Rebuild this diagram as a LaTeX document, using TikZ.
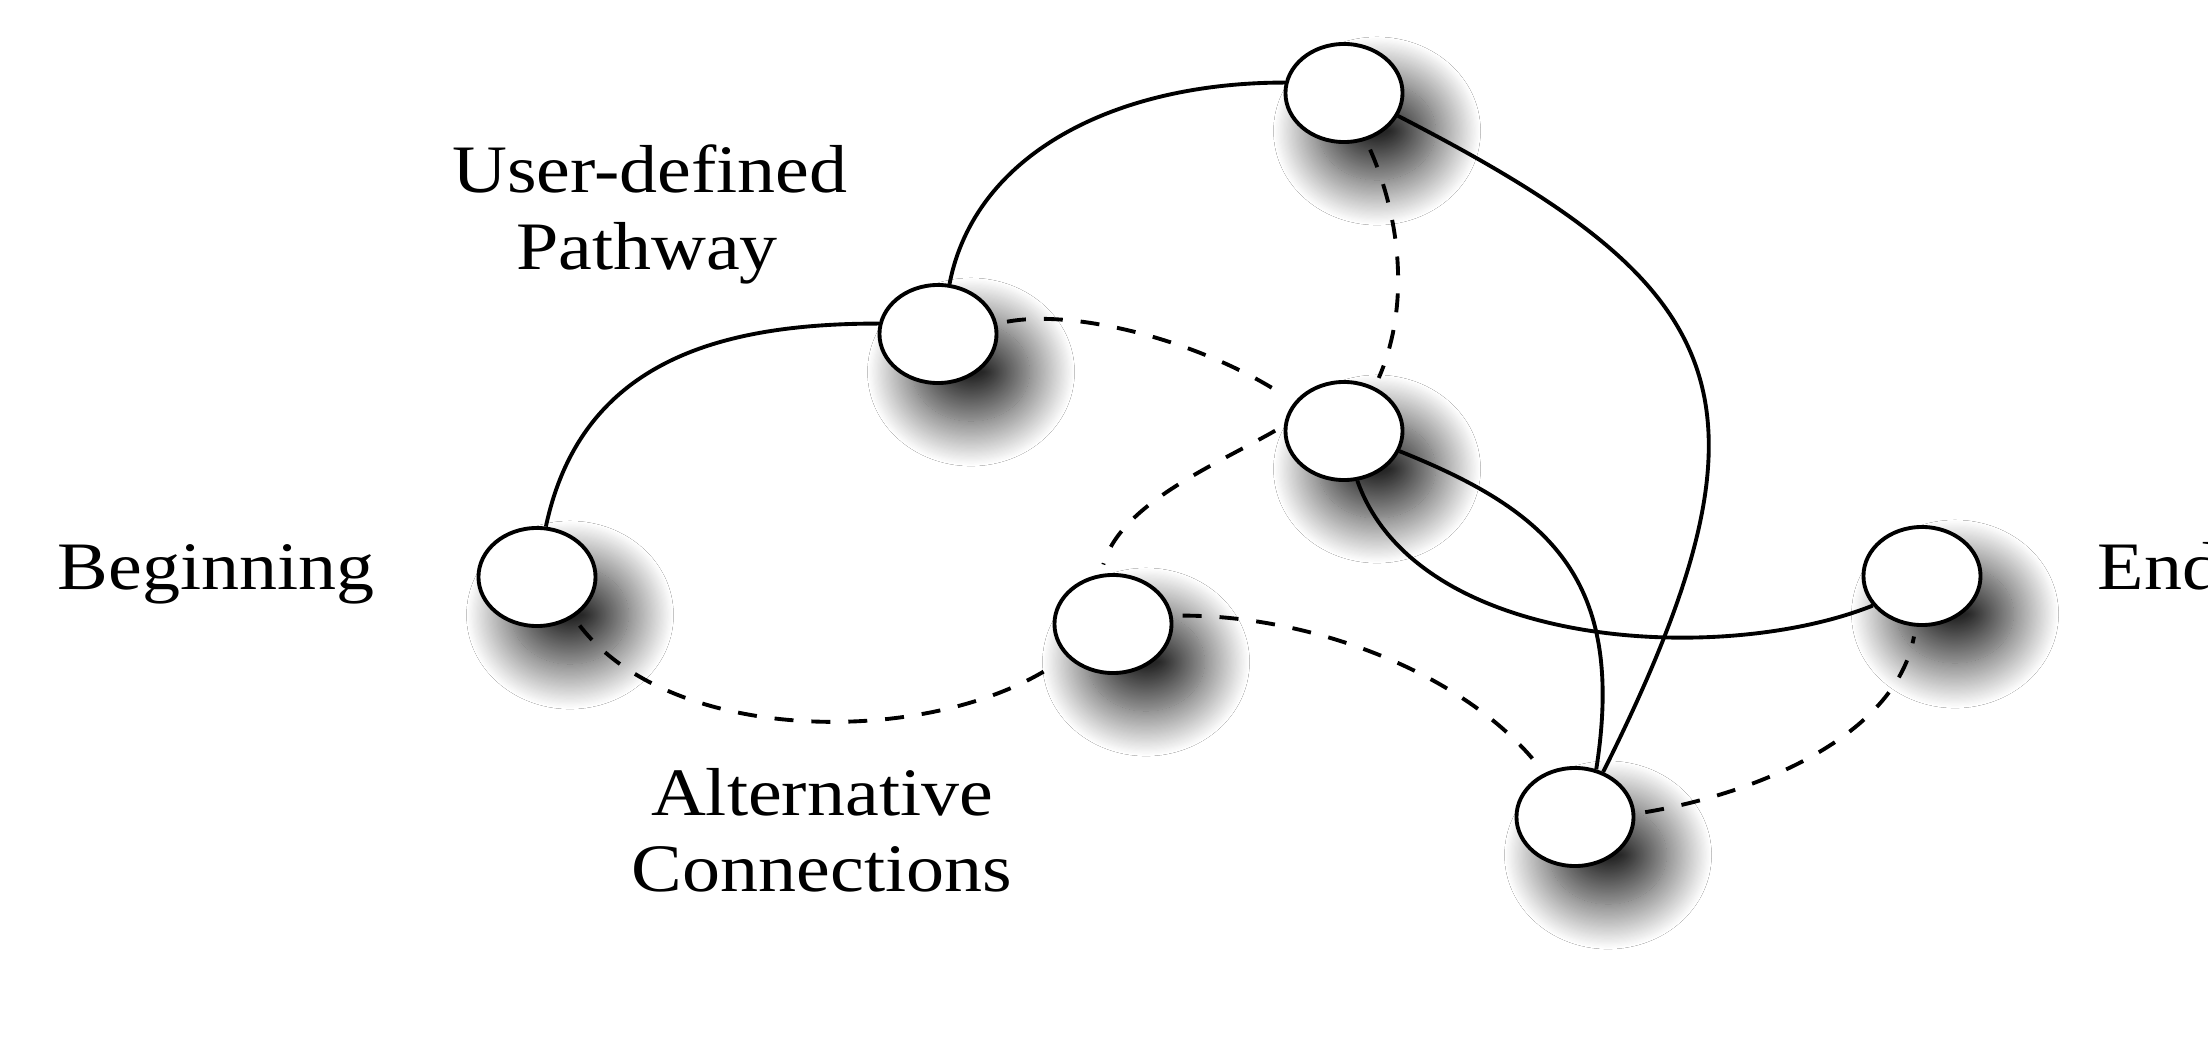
\documentclass[tikz,border=0pt]{standalone}
\usepackage{fontspec}
\newfontfamily\lblfont[FakeStretch=1.12]{Liberation Serif}
\usetikzlibrary{shapes.geometric,shadows.blur}
\tikzset{
 pt/.style={ellipse, draw, line width=1.1pt, fill=white, minimum width=1.17cm, minimum height=0.98cm, inner sep=0pt,
   blur shadow={shadow xshift=0.33cm, shadow yshift=-0.38cm, shadow blur radius=0.45cm, shadow blur steps=40, shadow opacity=85}},
 solidlink/.style={line width=1.1pt},
 dashlink/.style={line width=1.1pt, dash pattern=on 5.4pt off 5.1pt, shorten <=0.1cm, shorten >=0.1cm},
 lbl/.style={font=\lblfont\fontsize{19.3}{22}\selectfont, inner sep=0pt},
}
\begin{document}
\begin{tikzpicture}[x=0.01cm, y=-0.01cm]
\fill[white] (0,0) rectangle (2208,1052);
\useasboundingbox (0,0) rectangle (2208,1052);
% nodes
\node[pt] (B) at (537,577) {};
\node[pt] (U) at (938,334) {};
\node[pt] (T) at (1344,93) {};
\node[pt] (M) at (1344,431) {};
\node[pt] (A) at (1113,624) {};
\node[pt] (D) at (1575,817) {};
\node[pt] (E) at (1922,576) {};
% solid connectors
\draw[solidlink] (B.80) .. controls +(35,-165) and +(-160,0) .. (U.170);
\draw[solidlink] (U.77) .. controls +(25,-130) and +(-170,0) .. (T.170);
\draw[solidlink] (T.-23) .. controls +(330,170) and +(190,-380) .. (D.58);
\draw[solidlink] (M.-75) .. controls +(60,170) and +(-150,60) .. (E.211);
\draw[solidlink] (M.-20) .. controls +(150,60) and +(30,-190) .. (D.66);
% dashed connectors
\draw[dashlink] (U.10) .. controls +(80,-15) and +(-90,-60) .. (M.150);
\draw[dashlink] (T.-65) .. controls +(35,80) and +(35,-80) .. (M.55);
\draw[dashlink] (M.175) .. controls +(-70,40) and +(20,-70) .. (A.104);
\draw[dashlink] (B.-48) .. controls +(100,130) and +(-130,90) .. (A.215);
\draw[dashlink] (A.8) .. controls +(140,0) and +(-80,-100) .. (D.125);
\draw[dashlink] (D.3) .. controls +(120,-20) and +(-20,110) .. (E.-97);
% labels
\node[lbl, anchor=base west] (lbeg) at (57,590) {Beginning};
\node[lbl, anchor=base west] (lend) at (2097,590) {End};
\node[lbl, anchor=base] (lud1) at (650,193) {User-defined};
\node[lbl, anchor=base] (lud2) at (647,270) {Pathway};
\node[lbl, anchor=base] (lalt1) at (822,815) {Alternative};
\node[lbl, anchor=base] (lalt2) at (822,892) {Connections};
\end{tikzpicture}
\end{document}
